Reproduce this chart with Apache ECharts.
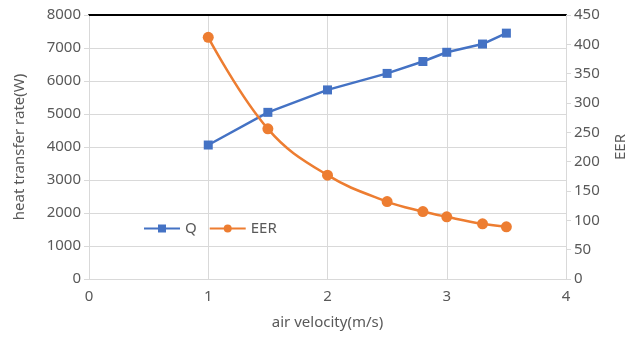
<!DOCTYPE html>
<html>
<head>
<meta charset="utf-8">
<script src="https://cdn.jsdelivr.net/npm/echarts@6/dist/echarts.min.js"></script>
<style>
  html, body { margin: 0; padding: 0; background: #fff; }
  #chart { width: 627px; height: 337px; }
</style>
</head>
<body>
<div id="chart"></div>
<script>
// data
var velocity = [1, 1.5, 2, 2.5, 2.8, 3, 3.3, 3.5];
var qValues = [4060, 5050, 5730, 6230, 6590, 6870, 7120, 7450];
var eerValues = [412, 256, 177, 132, 115, 106, 94, 89];

var FONT = 'Noto Sans';
var TEXT = '#595959';
var GRID = '#d9d9d9';

var chart = echarts.init(document.getElementById('chart'), null, { renderer: 'canvas' });

function pairs(xs, ys) {
    return xs.map(function (x, i) { return [x, ys[i]]; });
}

chart.setOption({
    animation: false,
    backgroundColor: '#fff',
    textStyle: { fontFamily: FONT },
    grid: { left: 89, right: 61, top: 15, bottom: 58, outerBoundsMode: 'none', containLabel: false },
    legend: {
        left: 138, top: 216,
        itemWidth: 36, itemHeight: 10, itemGap: 12,
        textStyle: { color: TEXT, fontSize: 15, fontFamily: FONT },
        data: ['Q', 'EER']
    },
    xAxis: [{
        type: 'value', min: 0, max: 4, interval: 1,
        name: 'air velocity(m/s)', nameLocation: 'middle', nameGap: 36,
        nameTextStyle: { color: TEXT, fontSize: 15 },
        axisLine: { onZero: false, lineStyle: { color: GRID } },
        axisTick: { show: false },
        axisLabel: { color: TEXT, fontSize: 15, margin: 10 },
        splitLine: { lineStyle: { color: GRID } }
    }, {
        type: 'value', min: 0, max: 4, position: 'top',
        axisLine: { show: true, onZero: false, lineStyle: { color: '#000', width: 2 } },
        axisTick: { show: false }, axisLabel: { show: false }, splitLine: { show: false }
    }],
    yAxis: [{
        type: 'value', min: 0, max: 8000, interval: 1000,
        name: 'heat transfer rate(W)', nameLocation: 'middle', nameGap: 62, nameRotate: 90,
        nameTextStyle: { color: TEXT, fontSize: 15 },
        axisLine: { show: true, onZero: false, lineStyle: { color: GRID } },
        axisTick: { show: true, length: 5, lineStyle: { color: GRID } },
        axisLabel: {
            color: TEXT, fontSize: 15, margin: 8,
            formatter: function (v) { return String(v); }
        },
        splitLine: { lineStyle: { color: GRID } }
    }, {
        type: 'value', min: 0, max: 450, interval: 50, position: 'right',
        name: 'EER', nameLocation: 'middle', nameGap: 47, nameRotate: 90,
        nameTextStyle: { color: TEXT, fontSize: 15 },
        axisLine: { show: true, onZero: false, lineStyle: { color: GRID } },
        axisTick: { show: true, length: 5, lineStyle: { color: GRID } },
        axisLabel: { color: TEXT, fontSize: 15, margin: 8 },
        splitLine: { show: false }
    }],
    series: [{
        name: 'Q', type: 'line', yAxisIndex: 0,
        data: pairs(velocity, qValues),
        symbol: 'rect', symbolSize: 9,
        lineStyle: { color: '#4472c4', width: 2.5 },
        itemStyle: { color: '#4472c4' }
    }, {
        name: 'EER', type: 'line', yAxisIndex: 1, smooth: 0.4,
        data: pairs(velocity, eerValues),
        symbol: 'circle', symbolSize: 11,
        lineStyle: { color: '#ed7d31', width: 2.5 },
        itemStyle: { color: '#ed7d31' }
    }]
});
</script>
</body>
</html>
